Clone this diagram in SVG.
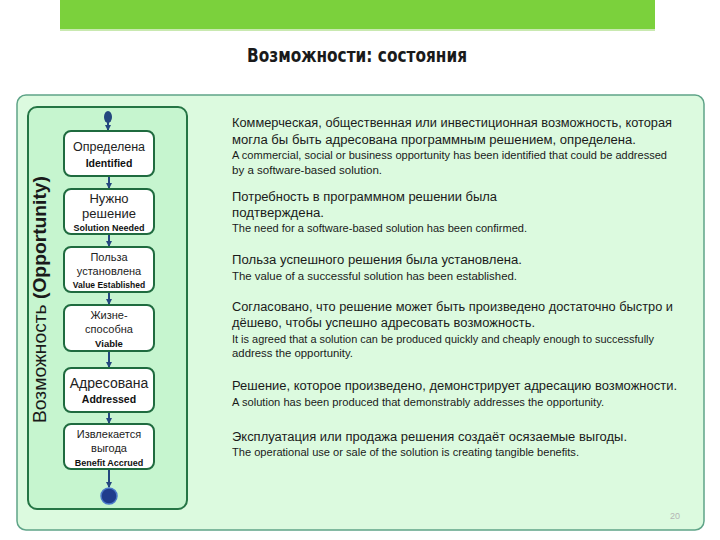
<svg xmlns="http://www.w3.org/2000/svg" width="720" height="540" viewBox="0 0 720 540">
<defs>
<marker id="arr" markerWidth="6" markerHeight="6" refX="5" refY="3" orient="auto" markerUnits="userSpaceOnUse">
<path d="M0,0 L6,3 L0,6 z" fill="#24477f"/>
</marker>
<style>
.node rect{fill:#ffffff;stroke:#1f6b3f;stroke-width:2}
.nt{font-family:"Liberation Sans",Arial,sans-serif;fill:#222;text-anchor:middle}
.nb{font-family:"Liberation Sans",Arial,sans-serif;font-weight:bold;fill:#111;text-anchor:middle}
.ru{font-family:"Liberation Sans",Arial,sans-serif;font-size:12.5px;fill:#1a1a1a}
.en{font-family:"Liberation Sans",Arial,sans-serif;font-size:10.5px;fill:#1a1a1a}
.conn line{stroke:#24477f;stroke-width:2}
</style>
</defs>
<rect width="720" height="540" fill="#ffffff"/>
<rect x="60" y="0" width="595" height="29" fill="#7bd13c"/>
<rect x="60" y="29" width="595" height="2" fill="#c9e9b0"/>
<text x="247" y="62" font-family="Liberation Sans Narrow,DejaVu Sans Condensed,Liberation Sans,sans-serif" font-weight="bold" font-size="20" fill="#1a1a1a" textLength="220" lengthAdjust="spacingAndGlyphs">Возможности: состояния</text>
<rect id="panel" x="17" y="95" width="687" height="435" rx="9" fill="#dcfadf" stroke="#5fa488" stroke-width="1.5"/>
<rect id="lane" x="28" y="107" width="159" height="402" rx="9" fill="#c6f5cf" stroke="#257545" stroke-width="2"/>
<text transform="translate(46,423) rotate(-90)" font-family="Liberation Sans,Arial,sans-serif" font-size="19" fill="#1a1a1a" textLength="247" lengthAdjust="spacingAndGlyphs">Возможность <tspan font-weight="bold">(Opportunity)</tspan></text>
<g id="connectors" class="conn">
<ellipse cx="108" cy="117" rx="4" ry="6" fill="#24477f"/>
<line x1="108" y1="120" x2="108" y2="130" marker-end="url(#arr)"/>
<line x1="109" y1="177" x2="109" y2="188" marker-end="url(#arr)"/>
<line x1="109" y1="235" x2="109" y2="246" marker-end="url(#arr)"/>
<line x1="109" y1="293" x2="109" y2="304" marker-end="url(#arr)"/>
<line x1="109" y1="352" x2="109" y2="367" marker-end="url(#arr)"/>
<line x1="109" y1="413" x2="109" y2="423" marker-end="url(#arr)"/>
<line x1="109" y1="470" x2="109" y2="487" marker-end="url(#arr)"/>
</g>
<g id="end"><circle cx="109" cy="496" r="8" fill="#1f3c8c" stroke="#4a78c8" stroke-width="1.5"/></g>
<g id="n1" class="node"><rect x="64" y="131" width="90" height="45" rx="7"/><text class="nt" x="109" y="151" style="font-size:12.5px">Определена</text><text class="nb" x="109" y="167" style="font-size:10.5px">Identified</text></g>
<g id="n2" class="node"><rect x="64" y="189" width="90" height="45" rx="7"/><text class="nt" x="109" y="203" style="font-size:13px">Нужно</text><text class="nt" x="109" y="218" style="font-size:13px">решение</text><text class="nb" x="109" y="231" style="font-size:9px">Solution Needed</text></g>
<g id="n3" class="node"><rect x="64" y="247" width="90" height="45" rx="7"/><text class="nt" x="109" y="261" style="font-size:11px">Польза</text><text class="nt" x="109" y="275" style="font-size:11px">установлена</text><text class="nb" x="109" y="288" style="font-size:8.5px">Value Established</text></g>
<g id="n4" class="node"><rect x="64" y="305" width="90" height="46" rx="7"/><text class="nt" x="109" y="319" style="font-size:11px">Жизне-</text><text class="nt" x="109" y="333" style="font-size:11px">способна</text><text class="nb" x="109" y="347" style="font-size:9.5px">Viable</text></g>
<g id="n5" class="node"><rect x="64" y="368" width="90" height="44" rx="7"/><text class="nt" x="109" y="388" style="font-size:14px">Адресована</text><text class="nb" x="109" y="403" style="font-size:10.5px">Addressed</text></g>
<g id="n6" class="node"><rect x="64" y="424" width="90" height="45" rx="7"/><text class="nt" x="109" y="438" style="font-size:11px">Извлекается</text><text class="nt" x="109" y="452" style="font-size:11px">выгода</text><text class="nb" x="109" y="466" style="font-size:9px">Benefit Accrued</text></g>
<g id="desc">
<text class="ru" x="232" y="127" textLength="440" lengthAdjust="spacingAndGlyphs">Коммерческая, общественная или инвестиционная возможность, которая</text>
<text class="ru" x="232" y="144" textLength="404" lengthAdjust="spacingAndGlyphs">могла бы быть адресована программным решением, определена.</text>
<text class="en" x="232" y="159" textLength="435" lengthAdjust="spacingAndGlyphs">A commercial, social or business opportunity has been identified that could be addressed</text>
<text class="en" x="232" y="174" textLength="150" lengthAdjust="spacingAndGlyphs">by a software-based solution.</text>
<text class="ru" x="232" y="201" textLength="265" lengthAdjust="spacingAndGlyphs">Потребность в программном решении была</text>
<text class="ru" x="232" y="217" textLength="92" lengthAdjust="spacingAndGlyphs">подтверждена.</text>
<text class="en" x="232" y="232" textLength="295" lengthAdjust="spacingAndGlyphs">The need for a software-based solution has been confirmed.</text>
<text class="ru" x="232" y="264" textLength="290" lengthAdjust="spacingAndGlyphs">Польза успешного решения была установлена.</text>
<text class="en" x="232" y="280" textLength="285" lengthAdjust="spacingAndGlyphs">The value of a successful solution has been established.</text>
<text class="ru" x="232" y="311" textLength="441" lengthAdjust="spacingAndGlyphs">Согласовано, что решение может быть произведено достаточно быстро и</text>
<text class="ru" x="232" y="327" textLength="303" lengthAdjust="spacingAndGlyphs">дёшево, чтобы успешно адресовать возможность.</text>
<text class="en" x="232" y="343" textLength="422" lengthAdjust="spacingAndGlyphs">It is agreed that a solution can be produced quickly and cheaply enough to successfully</text>
<text class="en" x="232" y="357" textLength="121" lengthAdjust="spacingAndGlyphs">address the opportunity.</text>
<text class="ru" x="232" y="390" textLength="445" lengthAdjust="spacingAndGlyphs">Решение, которое произведено, демонстрирует адресацию возможности.</text>
<text class="en" x="232" y="406" textLength="372" lengthAdjust="spacingAndGlyphs">A solution has been produced that demonstrably addresses the opportunity.</text>
<text class="ru" x="232" y="441" textLength="395" lengthAdjust="spacingAndGlyphs">Эксплуатация или продажа решения создаёт осязаемые выгоды.</text>
<text class="en" x="232" y="456" textLength="347" lengthAdjust="spacingAndGlyphs">The operational use or sale of the solution is creating tangible benefits.</text>
<text x="680" y="519" text-anchor="end" font-family="Liberation Sans,Arial,sans-serif" font-size="9" fill="#b5b5b5">20</text>
</g>
</svg>
